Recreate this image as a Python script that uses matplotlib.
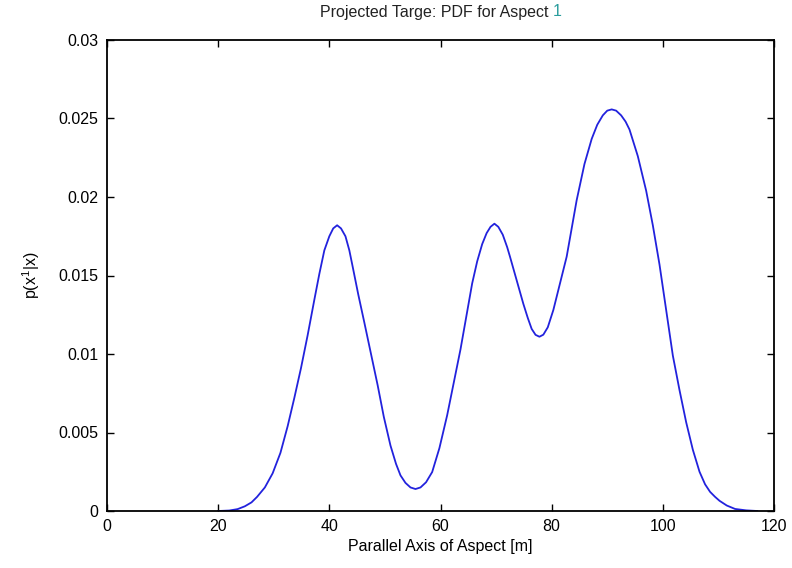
import matplotlib
matplotlib.use("Agg")
import matplotlib.pyplot as plt

x_vals = [20, 22, 23.5, 24.8, 26, 27, 28.4, 29.8, 31.2, 32.5, 33.7, 34.9, 36.1, 37.3,
          38.2, 39.1, 40.0, 40.7, 41.4, 42.1, 42.9, 43.6, 44.2, 45.2, 46.3, 47.5,
          48.7, 49.8, 51.0, 52.0, 52.8, 53.7, 54.6, 55.5, 56.4, 57.4, 58.5, 59.8,
          61.2, 62.4, 63.6, 64.7, 65.7, 66.6, 67.5, 68.3, 69.0, 69.7, 70.4, 71.2,
          72.0, 72.5, 73.3, 74.1, 74.9, 75.7, 76.4, 77.1, 77.8, 78.5, 79.3, 80.3,
          81.5, 82.7, 83.6, 84.5, 85.9, 87.2, 88.2, 89.2, 90.0, 90.8, 91.6, 92.5,
          93.3, 94.0, 95.5, 97.0, 98.2, 99.4, 100.6, 101.8, 103.0, 104.2, 105.4,
          106.6, 107.6, 108.5, 109.4, 110.2, 111.5, 113, 115, 117]
pdf_vals = [0.0, 0.00003, 0.00012, 0.0003, 0.00055, 0.0009, 0.0015, 0.0024, 0.0037,
            0.0054, 0.0072, 0.0091, 0.0112, 0.01345, 0.0151, 0.0166, 0.0175, 0.0180,
            0.0182, 0.0180, 0.0175, 0.0166, 0.01556, 0.0138, 0.0120, 0.0100, 0.0080,
            0.0060, 0.00417, 0.0030, 0.00227, 0.00179, 0.0015, 0.0014, 0.0015,
            0.00183, 0.00248, 0.0040, 0.0061, 0.0082, 0.0103, 0.0125, 0.0145,
            0.0159, 0.0170, 0.0177, 0.0181, 0.0183, 0.0181, 0.0176, 0.0168, 0.0162,
            0.0152, 0.0142, 0.0132, 0.0123, 0.0116, 0.01122, 0.0111, 0.01123,
            0.0117, 0.0128, 0.0145, 0.0162, 0.0180, 0.0198, 0.0221, 0.0237, 0.0246,
            0.0252, 0.0255, 0.02558, 0.0255, 0.0252, 0.0248, 0.0243, 0.0226, 0.0204,
            0.0182, 0.0157, 0.0128, 0.0099, 0.0077, 0.00565, 0.0039, 0.0025,
            0.0017, 0.00122, 0.0009, 0.00065, 0.00035, 0.00013, 0.00004, 0.0]

x_ticks = [0, 20, 40, 60, 80, 100, 120]
y_ticks = [0, 0.005, 0.01, 0.015, 0.02, 0.025, 0.03]
y_tick_labels = ["0", "0.005", "0.01", "0.015", "0.02", "0.025", "0.03"]

plt.rcParams['font.family'] = ['Liberation Sans', 'DejaVu Sans']
plt.rcParams['mathtext.fontset'] = 'custom'
plt.rcParams['mathtext.rm'] = 'Liberation Sans'
plt.rcParams['mathtext.it'] = 'Liberation Sans'
plt.rcParams['mathtext.bf'] = 'Liberation Sans'

fig = plt.figure(figsize=(7.92, 5.68), dpi=100)
ax = fig.add_axes([107/792, 1 - 511/568, (774 - 107)/792, (511 - 40)/568])

ax.plot(x_vals, pdf_vals, color='#2222dd', linewidth=1.3)

ax.set_xlim(0, 120)
ax.set_ylim(0, 0.03)
ax.set_xticks(x_ticks)
ax.set_yticks(y_ticks)
ax.set_yticklabels(y_tick_labels)
ax.tick_params(direction='in', top=True, right=True, length=5, width=1,
               labelsize=11.5, colors='black', pad=6)
for s in ax.spines.values():
    s.set_linewidth(1.3)

ax.set_xlabel("Parallel Axis of Aspect [m]", fontsize=11.5, labelpad=3)
ax.set_ylabel(r"p(x$^{\mathrm{1}}$|x)", fontsize=11.5, labelpad=12)

t1 = fig.text(0.5, 1 - 12/568, "Projected Targe: PDF for Aspect ", fontsize=11.5,
              ha='right', va='center', color='#222222')
t2 = fig.text(0.5, 1 - 12/568, "1", fontsize=11.5, ha='left', va='center',
              color='#2a9d9d')

# centre the two-part title over the axes
fig.canvas.draw()
r = fig.canvas.get_renderer()
bb1 = t1.get_window_extent(r)
total_w = bb1.width + 8
cx = (107 + 774) / 2 / 792
t1.set_x(cx - total_w / 2 / 792 + bb1.width / 792)
t2.set_x(cx - total_w / 2 / 792 + bb1.width / 792)

fig.savefig("out.png", dpi=100)
